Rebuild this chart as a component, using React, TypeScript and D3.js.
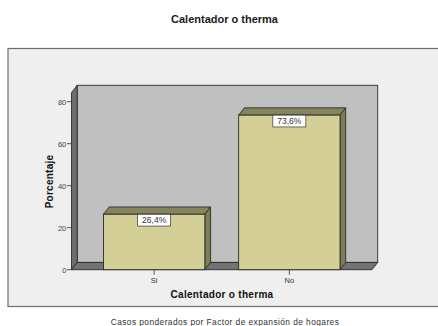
import React from "react";
import * as d3 from "d3";

const categories = ["Si", "No"];
const percentages = [26.4, 73.6];
const valueLabels = ["26,4%", "73,6%"];
const yTicks = [0, 20, 40, 60, 80];
const chartTitle = "Calentador o therma";
const xTitle = "Calentador o therma";
const yTitle = "Porcentaje";
const footnote = "Casos ponderados por Factor de expansión de hogares";

const FONT = "'Liberation Sans', Arial, sans-serif";
const DX = 5.7;
const DY = 7.3;
const LINE = "#2b2b2b";

export default function App() {
  const y = d3.scaleLinear().domain([0, 80]).range([269.7, 101.7]);
  const x = d3
    .scaleBand<string>()
    .domain(categories)
    .range([71.5, 372])
    .paddingInner(0.25)
    .paddingOuter(0.2365);

  const y0 = y(0);
  const xL = 71.5;
  const xR = 372;
  const topFront = 92.6;
  const poly = (pts: [number, number][]) => pts.map((p) => p.join(",")).join(" ");

  return (
    <svg
      width={438}
      height={326}
      style={{ position: "fixed", left: 0, top: 0, background: "#fff" }}
      fontFamily={FONT}
    >
      <text x={224.5} y={22.5} textAnchor="middle" fontSize={11} fontWeight={700} fill="#1a1a1a">
        {chartTitle}
      </text>

      {/* outer chart frame */}
      <rect x={8} y={48.5} width={460} height={258} fill="#efefef" stroke="#6e6e6e" strokeWidth={1.2} />

      {/* back wall, side wall and floor */}
      <rect x={xL + DX} y={topFront - DY} width={xR - xL} height={y0 - topFront} fill="#c0c0c0" stroke={LINE} strokeWidth={0.9} />
      <polygon
        points={poly([[xL, topFront], [xL + DX, topFront - DY], [xL + DX, y0 - DY], [xL, y0]])}
        fill="#6f6f6f"
        stroke={LINE}
        strokeWidth={0.9}
      />
      <polygon
        points={poly([[xL, y0], [xL + DX, y0 - DY], [xR + DX, y0 - DY], [xR, y0]])}
        fill="#737373"
        stroke={LINE}
        strokeWidth={0.9}
      />

      {/* value axis */}
      {yTicks.map((t) => (
        <g key={t}>
          <line x1={xL - 4.5} x2={xL} y1={y(t)} y2={y(t)} stroke="#444" strokeWidth={0.9} />
          <text x={xL - 5.2} y={y(t) + 2.8} textAnchor="end" fontSize={7.5} fill="#444">
            {t}
          </text>
        </g>
      ))}

      {/* extruded bars */}
      {categories.map((c, i) => {
        const x0 = x(c)!;
        const x1 = x0 + x.bandwidth();
        const top = y(percentages[i]);
        const mid = (x0 + x1) / 2;
        return (
          <g key={c}>
            <polygon
              points={poly([[x0, top], [x0 + DX, top - DY], [x1 + DX, top - DY], [x1, top]])}
              fill="#86845c"
              stroke={LINE}
              strokeWidth={0.9}
            />
            <polygon
              points={poly([[x1, top], [x1 + DX, top - DY], [x1 + DX, y0 - DY], [x1, y0]])}
              fill="#7f7d58"
              stroke={LINE}
              strokeWidth={0.9}
            />
            <rect x={x0} y={top} width={x1 - x0} height={y0 - top} fill="#d3cf97" stroke={LINE} strokeWidth={0.9} />
            <rect x={mid - 16.5} y={top} width={33} height={11.8} fill="#fff" stroke="#333" strokeWidth={0.7} />
            <text x={mid} y={top + 9} textAnchor="middle" fontSize={8.5} fill="#333">
              {valueLabels[i]}
            </text>
            <line x1={mid} x2={mid} y1={y0} y2={y0 + 5} stroke="#444" strokeWidth={0.9} />
            <text x={mid} y={y0 + 13.5} textAnchor="middle" fontSize={7.5} fill="#333">
              {c}
            </text>
          </g>
        );
      })}

      {/* axis titles and footnote */}
      <text
        transform="translate(52.5,181.5) rotate(-90)"
        textAnchor="middle"
        fontSize={10}
        fontWeight={700}
        letterSpacing={0.25}
        fill="#111"
      >
        {yTitle}
      </text>
      <text x={222} y={297.5} textAnchor="middle" fontSize={10} fontWeight={700} letterSpacing={0.3} fill="#111">
        {xTitle}
      </text>
      <text x={225} y={325} textAnchor="middle" fontSize={8.4} letterSpacing={0.42} fill="#333">
        {footnote}
      </text>
    </svg>
  );
}
